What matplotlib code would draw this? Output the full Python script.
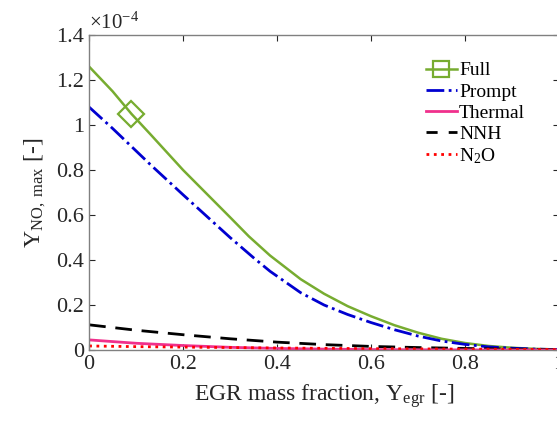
import matplotlib
matplotlib.use("Agg")
import matplotlib.pyplot as plt
from matplotlib.lines import Line2D
from matplotlib.ticker import FormatStrFormatter

plt.rcParams["font.family"] = ["Liberation Serif", "DejaVu Serif"]
plt.rcParams["mathtext.fontset"] = "custom"
plt.rcParams["mathtext.rm"] = "Liberation Serif"
plt.rcParams["mathtext.it"] = "Liberation Serif:italic"

# EGR mass fraction and peak NO mass fraction (units of 1e-4)
full_x = [0.0, 0.05, 0.09, 0.13, 0.2, 0.25, 0.3, 0.34, 0.385, 0.45, 0.5,
          0.55, 0.6, 0.65, 0.7, 0.75, 0.8, 0.85, 0.9, 0.95, 1.0]
full_y = [1.26, 1.15, 1.05, 0.96, 0.80, 0.695, 0.59, 0.505, 0.42, 0.315, 0.25,
          0.195, 0.15, 0.11, 0.077, 0.05, 0.031, 0.018, 0.01, 0.005, 0.002]
full_marker_idx = 2

prompt_x = [0.0, 0.05, 0.1, 0.13, 0.2, 0.25, 0.3, 0.35, 0.385, 0.45, 0.5,
            0.55, 0.6, 0.65, 0.7, 0.75, 0.8, 0.85, 0.9, 0.95, 1.0]
prompt_y = [1.08, 0.985, 0.885, 0.825, 0.69, 0.595, 0.50, 0.41, 0.35, 0.255, 0.20,
            0.158, 0.122, 0.09, 0.062, 0.04, 0.025, 0.014, 0.008, 0.004, 0.002]

egr = [0.0, 0.1, 0.2, 0.3, 0.4, 0.5, 0.6, 0.7, 0.8, 0.9, 1.0]
thermal_y = [0.045, 0.03, 0.02, 0.012, 0.007, 0.004, 0.002, 0.001, 0.0005, 0.0002, 0.0]
nnh_y = [0.112, 0.088, 0.068, 0.05, 0.035, 0.024, 0.016, 0.011, 0.007, 0.004, 0.002]
n2o_y = [0.018, 0.015, 0.013, 0.011, 0.009, 0.0075, 0.006, 0.005, 0.004, 0.003, 0.002]

y_ticks = [0, 0.2, 0.4, 0.6, 0.8, 1.0, 1.2, 1.4]
x_ticks = [0, 0.2, 0.4, 0.6, 0.8, 1.0]

GREEN = "#77AC30"
BLUE = "#0000D0"
MAGENTA = "#F0308C"
RED = "#FF0000"

fig = plt.figure(figsize=(5.57, 4.21), dpi=100)
# axes runs slightly past the right edge, like the cropped original
ax = fig.add_axes([0.16, 0.1686, 0.8438, 0.748])

ax.plot(full_x, full_y, "-", color=GREEN, linewidth=1.8,
        marker="D", markevery=[full_marker_idx], markersize=13,
        markerfacecolor="none", markeredgecolor=GREEN, markeredgewidth=1.6)
ax.plot(prompt_x, prompt_y, "-.", color=BLUE, linewidth=2.0)
ax.plot(egr, nnh_y, "--", color="black", linewidth=2.0, dashes=(6, 3.5))
ax.plot(egr, thermal_y, "-", color=MAGENTA, linewidth=2.0)
ax.plot(egr, n2o_y, ":", color=RED, linewidth=2.0)

ax.set_xlim(0, 1)
ax.set_ylim(0, 1.4)
ax.set_xticks(x_ticks)
ax.set_yticks(y_ticks)
ax.xaxis.set_major_formatter(FormatStrFormatter("%g"))
ax.yaxis.set_major_formatter(FormatStrFormatter("%g"))
ax.tick_params(direction="in", top=True, right=True, length=4,
               labelsize=16, colors="#262626")
for s in ax.spines.values():
    s.set_color("#808080")
    s.set_linewidth(1.0)

ax.set_xlabel(r"EGR mass fraction, Y$_{\mathrm{egr}}$ [-]", fontsize=17,
              color="#262626", labelpad=6)
ax.set_ylabel(r"Y$_{\mathrm{NO,\ max}}$ [-]", fontsize=17, color="#262626",
              labelpad=6)
ax.text(0.0, 1.005, r"$\times10^{-4}$", transform=ax.transAxes,
        fontsize=15, color="#262626", ha="left", va="bottom")

handles = [
    Line2D([], [], color=GREEN, linewidth=1.8, marker="s", markersize=11,
           markerfacecolor="none", markeredgewidth=1.6),
    Line2D([], [], color=BLUE, linestyle="-.", linewidth=2.0),
    Line2D([], [], color=MAGENTA, linewidth=2.0),
    Line2D([], [], color="black", linestyle="--", linewidth=2.0, dashes=(4, 4)),
    Line2D([], [], color=RED, linestyle=":", linewidth=2.0),
]
labels = ["Full", "Prompt", "Thermal", "NNH", r"N$_2$O"]
ax.legend(handles, labels, loc="upper left", bbox_to_anchor=(0.70, 0.94),
          frameon=False, fontsize=14, handlelength=1.6, handletextpad=0.1,
          labelspacing=0.18, borderaxespad=0)

fig.savefig("out.png", dpi=100)
